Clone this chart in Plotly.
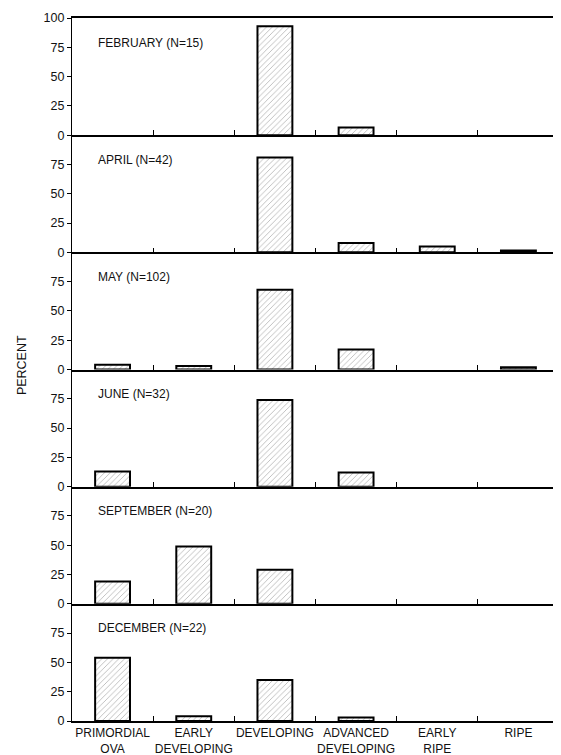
import plotly.graph_objects as go
from plotly.subplots import make_subplots

categories = ["PRIMORDIAL<br>OVA", "EARLY<br>DEVELOPING", "DEVELOPING",
              "ADVANCED<br>DEVELOPING", "EARLY<br>RIPE", "RIPE"]
panel_titles = ["FEBRUARY (N=15)", "APRIL (N=42)", "MAY (N=102)",
                "JUNE (N=32)", "SEPTEMBER (N=20)", "DECEMBER (N=22)"]
february = [0, 0, 93, 6.5, 0, 0]
april = [0, 0, 81, 8, 5, 1.5]
may = [4, 3, 68, 17, 0, 2]
june = [13, 0, 74, 12, 0, 0]
september = [19, 49, 29, 0, 0, 0]
december = [54, 4, 35, 3, 0, 0]
series = [february, april, may, june, september, december]
y_ticks_top = [0, 25, 50, 75, 100]
y_ticks = [0, 25, 50, 75]

FONT = "Liberation Sans, Arial, sans-serif"

fig = make_subplots(rows=6, cols=1, shared_xaxes=True, vertical_spacing=0)

for i, vals in enumerate(series):
    r = i + 1
    shown = [v if v else None for v in vals]
    fig.add_trace(go.Bar(
        x=categories, y=shown, width=0.43,
        marker=dict(color="white", line=dict(color="black", width=2),
                    pattern=dict(shape="/", fgcolor="#666", bgcolor="white",
                                 size=4, solidity=0.2, fillmode="overlay")),
        showlegend=False, hoverinfo="skip"), row=r, col=1)
    tv = y_ticks_top if r == 1 else y_ticks
    fig.update_yaxes(range=[0, 100], tickvals=tv, ticktext=[str(v) for v in tv],
                     ticks="outside", ticklen=4, tickcolor="black",
                     showline=True, linecolor="black", linewidth=1.2, mirror=True,
                     showgrid=False, zeroline=False, automargin=False,
                     tickfont=dict(family=FONT, size=12.5, color="#111"),
                     row=r, col=1)
    fig.update_xaxes(showline=True, linecolor="black", linewidth=1.5,
                     mirror=(r == 1),
                     ticks="inside", tickson="boundaries", ticklen=5, tickcolor="black",
                     showgrid=False, showticklabels=(r == 6),
                     tickangle=0, automargin=False,
                     tickfont=dict(family=FONT, size=12, color="#111"),
                     categoryorder="array", categoryarray=categories,
                     row=r, col=1)
    yref = "y domain" if r == 1 else f"y{r} domain"
    xref = "x domain" if r == 1 else f"x{r} domain"
    fig.add_annotation(text=panel_titles[i], xref=xref, yref=yref,
                       x=0.05, y=0.79, xanchor="left", yanchor="middle",
                       showarrow=False,
                       font=dict(family=FONT, size=12, color="#111"))

fig.add_annotation(text="PERCENT", xref="paper", yref="paper",
                   x=-0.103, y=0.506, textangle=-90, showarrow=False,
                   xanchor="center", yanchor="middle",
                   font=dict(family=FONT, size=12.5, color="#111"))

# page body has an 8px margin; compensate so the plot lands where the reference is
fig.update_layout(width=553, height=747,
                  margin=dict(l=64, r=2, t=10, b=34),
                  paper_bgcolor="white", plot_bgcolor="white",
                  bargap=0.57)

fig.write_html("out.html")
